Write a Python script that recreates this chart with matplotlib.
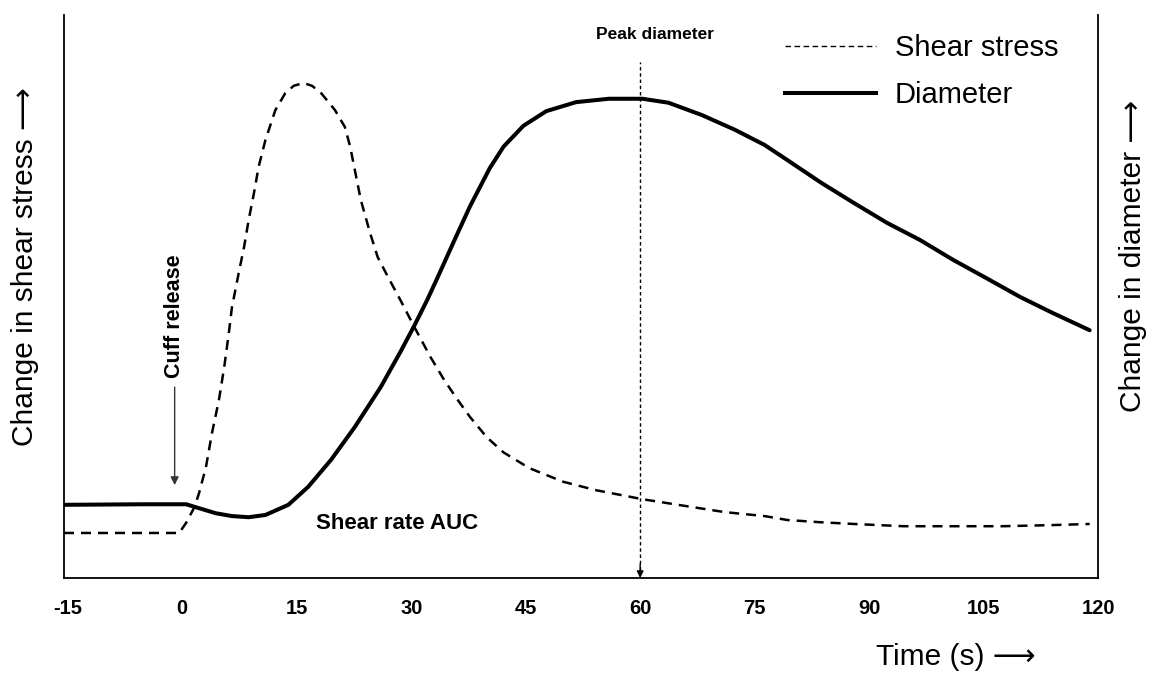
import numpy as np
import matplotlib
matplotlib.use('Agg')
import matplotlib.pyplot as plt
from matplotlib.lines import Line2D

plt.rcParams['font.family'] = ['Liberation Sans', 'DejaVu Sans']

# time (s) and change in shear stress (arbitrary units)
shear_t = [-15.5, -0.4, 0.5, 1.6, 2.2, 3.1, 3.9, 4.8, 5.5, 6.1, 6.5, 7.4, 8.1, 8.7,
           9.4, 10.0, 10.9, 12.2, 13.5, 14.6, 15.9, 17.0, 18.2, 20.0, 21.3, 22.0,
           22.6, 23.4, 24.6, 25.6, 26.9, 28.6, 30.4, 32.5, 34.3, 36.0, 37.7, 39.9,
           42.1, 45.5, 49.9, 54.2, 60.3, 65.9, 71.1, 76.3, 79.3, 83.7, 88.0, 94.5,
           101.0, 107.5, 114.0, 118.9]
shear_v = [8.0, 8.0, 9.8, 12.6, 15.1, 19.7, 25.8, 31.6, 37.5, 43.5, 48.0, 54.2, 58.8,
           63.6, 68.4, 73.0, 77.8, 83.1, 86.1, 87.4, 87.9, 87.4, 86.1, 83.1, 80.1,
           76.6, 72.5, 67.1, 61.3, 57.0, 53.6, 49.3, 44.6, 39.3, 35.2, 31.8, 28.6,
           25.0, 22.3, 19.5, 17.1, 15.6, 14.0, 12.8, 11.7, 11.0, 10.3, 9.9, 9.6,
           9.2, 9.2, 9.2, 9.4, 9.6]

# time (s) and change in diameter (arbitrary units)
diam_t = [-15.5, -5.0, -0.5, 0.5, 2.2, 4.4, 6.5, 8.7, 10.9, 13.9, 16.5, 19.5, 22.6,
          26.0, 28.6, 30.4, 32.1, 33.4, 35.6, 37.7, 40.3, 42.1, 44.7, 47.7, 51.6,
          55.9, 60.3, 63.7, 68.1, 72.4, 76.3, 79.3, 83.7, 88.0, 92.3, 96.7, 101.0,
          105.3, 109.8, 114.0, 118.9]
diam_v = [13.0, 13.1, 13.1, 13.1, 12.4, 11.5, 11.0, 10.8, 11.2, 13.0, 16.2, 21.0,
          26.8, 33.9, 40.2, 44.8, 49.4, 53.2, 59.8, 66.0, 72.8, 76.6, 80.3, 82.9,
          84.5, 85.1, 85.1, 84.4, 82.2, 79.6, 76.9, 74.2, 70.2, 66.6, 63.1, 60.0,
          56.5, 53.3, 49.9, 47.1, 44.0]

xticks = [-15, 0, 15, 30, 45, 60, 75, 90, 105, 120]
cuff_t = -1.0
peak_t = 60

fig = plt.figure(figsize=(11.51, 6.81), dpi=100)
ax = fig.add_axes([0.0556, 0.1512, 0.8984, 0.827])

ax.plot(shear_t, shear_v, color='black', lw=1.8, ls=(0, (4, 2.8)))
ax.plot(diam_t, diam_v, color='black', lw=2.9, solid_capstyle='round',
        solid_joinstyle='round')

ax.set_xlim(-15.5, 119.0)
ax.set_ylim(0, 100)
ax.set_xticks(xticks)
ax.set_xticklabels([str(v) for v in xticks], fontweight='bold', fontsize=14.5)
ax.set_yticks([])
ax.tick_params(axis='x', length=0, pad=15)
ax.spines['top'].set_visible(False)
for s in ['left', 'bottom', 'right']:
    ax.spines[s].set_linewidth(1.3)

# cuff release marker
ax.annotate('', xy=(cuff_t, 16.5), xytext=(cuff_t, 33.9),
            arrowprops=dict(arrowstyle='-|>', color='#333333', lw=1.0,
                            mutation_scale=12, shrinkA=0, shrinkB=0))
ax.text(cuff_t, 35.5, 'Cuff release', rotation=90, ha='center', va='bottom',
        fontsize=15.5, fontweight='bold')

# peak diameter marker
ax.vlines(peak_t, 1.5, 91.6, colors='black', lw=1.0, linestyles=(0, (2.5, 2)))
ax.annotate('', xy=(peak_t, 0), xytext=(peak_t, 2.5),
            arrowprops=dict(arrowstyle='-|>', color='black', lw=1.0,
                            mutation_scale=10, shrinkA=0, shrinkB=0))
ax.text(peak_t + 2.0, 96.5, 'Peak diameter', ha='center', va='center',
        fontsize=12.5, fontweight='bold')

ax.text(28.2, 9.6, 'Shear rate AUC', ha='center', va='center',
        fontsize=16, fontweight='bold')

handles = [Line2D([], [], color='black', lw=1.0, ls=(0, (4, 2.5))),
           Line2D([], [], color='black', lw=2.9)]
ax.legend(handles, ['Shear stress', 'Diameter'], loc='upper left',
          bbox_to_anchor=(0.672, 1.012), frameon=False, fontsize=21,
          handlelength=3.1, handletextpad=0.65, labelspacing=0.65)

fig.text(0.0217, 0.609, 'Change in shear stress \u27f6', rotation=90, ha='center',
         va='center', fontsize=21.5)
fig.text(0.984, 0.624, 'Change in diameter \u27f6', rotation=90, ha='center',
         va='center', fontsize=21.5)
fig.text(0.83, 0.035, 'Time (s) \u27f6', ha='center', va='center', fontsize=21.5)

fig.savefig('out.png', dpi=100)
